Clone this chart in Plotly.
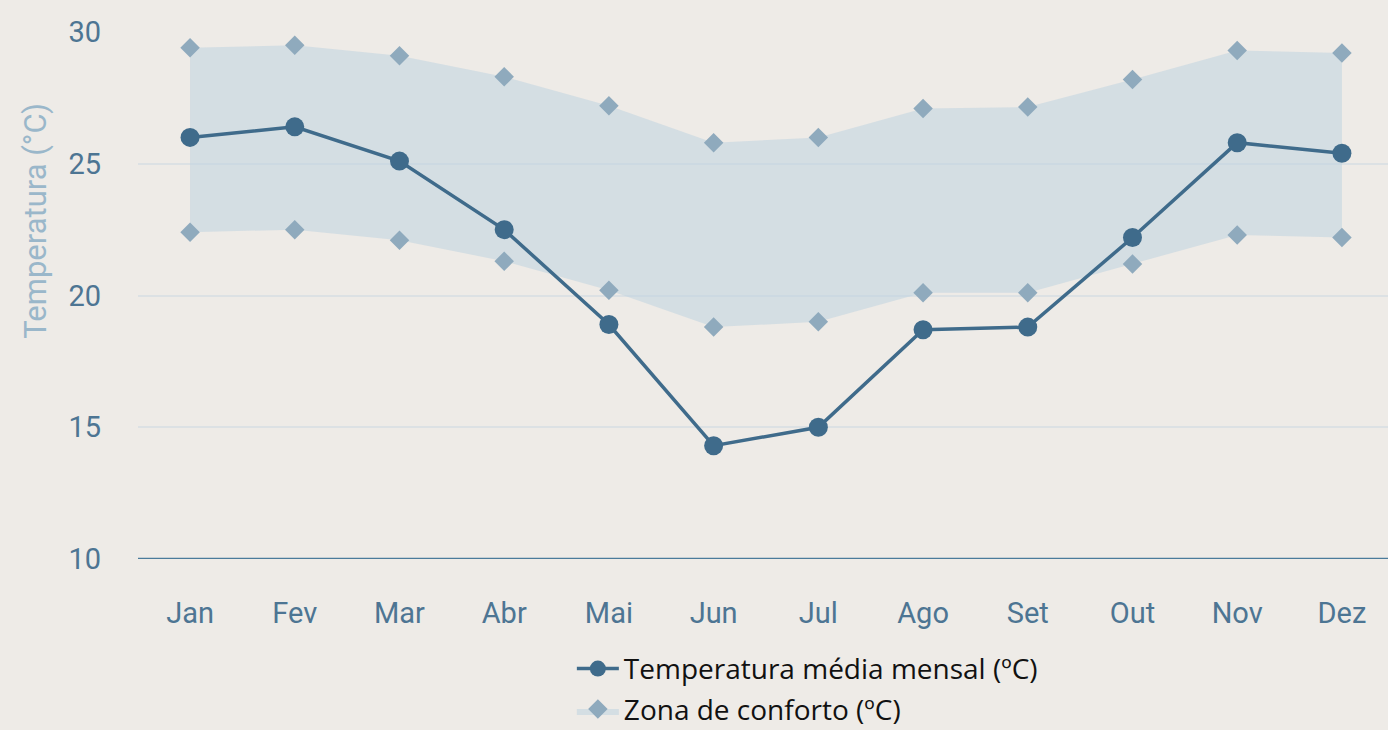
import plotly.graph_objects as go

# Monthly data
months = ["Jan", "Fev", "Mar", "Abr", "Mai", "Jun", "Jul", "Ago", "Set", "Out", "Nov", "Dez"]
temp_media = [26.0, 26.4, 25.1, 22.5, 18.9, 14.3, 15.0, 18.7, 18.8, 22.2, 25.8, 25.4]
conforto_max = [29.4, 29.5, 29.1, 28.3, 27.2, 25.8, 26.0, 27.1, 27.15, 28.2, 29.3, 29.2]
conforto_min = [22.4, 22.5, 22.1, 21.3, 20.2, 18.8, 19.0, 20.1, 20.1, 21.2, 22.3, 22.2]
y_ticks = [10, 15, 20, 25, 30]

BG = "#eeebe7"
LINE = "#3f6b8b"
DIAMOND = "#8faabd"
BAND = "rgba(190,210,224,0.54)"
TICK = "#4d7593"

fig = go.Figure()

# Comfort band: upper edge, then lower edge filled up to it
fig.add_trace(go.Scatter(
    x=months, y=conforto_max, mode="lines+markers", line=dict(width=0, color=BAND),
    marker=dict(symbol="diamond", size=15, color=DIAMOND),
    showlegend=False, hoverinfo="skip", legendgroup="zona",
))
fig.add_trace(go.Scatter(
    x=months, y=conforto_min, mode="lines+markers", fill="tonexty", fillcolor=BAND,
    line=dict(width=0, color=BAND),
    marker=dict(symbol="diamond", size=15, color=DIAMOND),
    name="Zona de conforto (ºC)", legendgroup="zona", legendrank=2,
))

# Monthly mean temperature
fig.add_trace(go.Scatter(
    x=months, y=temp_media, mode="lines+markers",
    line=dict(color=LINE, width=3.5),
    marker=dict(symbol="circle", size=19, color=LINE),
    name="Temperatura média mensal (ºC)", legendgroup="temp", legendrank=1,
))

fig.update_layout(
    width=1388, height=730,
    paper_bgcolor=BG, plot_bgcolor=BG,
    margin=dict(l=138, r=0, t=32, b=171, autoexpand=False),
    font=dict(family="Roboto", color=TICK),
    legend=dict(
        xref="container", yref="container",
        x=0.412, xanchor="left", y=0.118, yanchor="top",
        font=dict(family="Open Sans", size=28, color="#111111"),
        bgcolor="rgba(0,0,0,0)", traceorder="grouped", tracegroupgap=1,
        itemwidth=42,
    ),
    xaxis=dict(
        range=[-0.497, 11.44], showgrid=False, zeroline=False, showline=False,
        tickfont=dict(size=29, color=TICK), ticks="", ticklabelstandoff=34,
    ),
    yaxis=dict(
        range=[10, 30], tickvals=y_ticks, showgrid=True, gridcolor="#dce1e4", gridwidth=2,
        zeroline=False, showline=False, ticks="", ticklabelstandoff=36,
        tickfont=dict(size=29, color=TICK),
    ),
)

# Vertical axis title
fig.add_annotation(
    text="Temperatura (°C)", textangle=-90, showarrow=False,
    xref="paper", yref="paper", x=-0.082, y=0.641, xanchor="center", yanchor="middle",
    font=dict(family="Roboto", size=31, color="#9ab7ca"),
)

# Baseline at the bottom of the axis
fig.add_shape(type="line", xref="paper", yref="y", x0=0, x1=1, y0=10, y1=10,
              line=dict(color="#4b7b9b", width=2.5), layer="above")

fig.write_html("out.html")
